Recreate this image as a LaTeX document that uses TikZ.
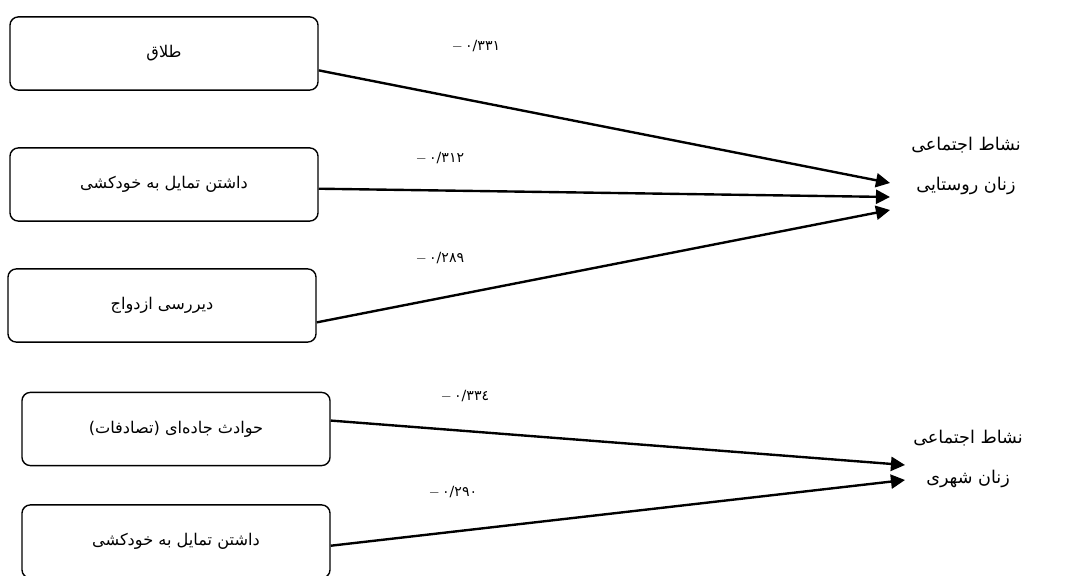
\documentclass[tikz,border=0pt]{standalone}
\usepackage{fontspec}
\usetikzlibrary{arrows.meta}
\TeXXeTstate=1
\newfontfamily\farsifont[Script=Arabic]{DejaVu Sans}

\begin{document}
\begin{tikzpicture}[x=0.025cm, y=-0.025cm,
    factor/.style={rectangle, rounded corners=6pt, draw, line width=1pt, minimum width=7.7cm, minimum height=1.83cm, inner sep=0pt, font=\farsifont\fontsize{11.5}{13}\selectfont},
    outcome/.style={align=center, font=\farsifont\fontsize{12.5}{28}\selectfont},
    coef/.style={inner sep=0pt, font=\farsifont\fontsize{10}{12}\selectfont},
    effect/.style={-{Triangle[length=10pt, width=10pt]}, line width=1.7pt}]
  \useasboundingbox (0,0) rectangle (1077,576);

  % Nodes
  \node[factor] at (164, 53.5) (talaq) {\beginR طلاق\endR};
  \node[factor] at (164, 184.5) (suicideR) {\beginR داشتن تمایل به خودکشی\endR};
  \node[factor] at (162, 305.5) (marriage) {\beginR دیررسی ازدواج\endR};
  \node[factor] at (176, 429) (accident) {\beginR حوادث جاده‌ای (تصادفات)\endR};
  \node[factor] at (176, 541.5) (suicideU) {\beginR داشتن تمایل به خودکشی\endR};

  \node[outcome] at (966, 166) (rural) {\beginR نشاط اجتماعی\endR\\\beginR زنان روستایی\endR};
  \node[outcome] at (968, 459) (urban) {\beginR نشاط اجتماعی\endR\\\beginR زنان شهری\endR};

  \coordinate (tipA) at (890, 183);
  \coordinate (tipB) at (890, 197);
  \coordinate (tipC) at (890, 210);
  \coordinate (tipD) at (905, 465);
  \coordinate (tipE) at (905, 480);

  % Coefficients
  \node[coef] at (476, 46) (cA) {$-$\,۰/۳۳۱};
  \node[coef] at (440, 158) (cB) {$-$\,۰/۳۱۲};
  \node[coef] at (440, 258) (cC) {$-$\,۰/۲۸۹};
  \node[coef] at (465, 396) (cD) {$-$\,۰/۳۳٤};
  \node[coef] at (453, 492) (cE) {$-$\,۰/۲۹۰};

  \draw[effect] ([yshift=-12pt]talaq.east) -- (tipA);
  \draw[effect] ([yshift=-3pt]suicideR.east) -- (tipB);
  \draw[effect] ([yshift=-12pt]marriage.east) -- (tipC);
  \draw[effect] ([yshift=6pt]accident.east) -- (tipD);
  \draw[effect] ([yshift=-3pt]suicideU.east) -- (tipE);
\end{tikzpicture}
\end{document}
